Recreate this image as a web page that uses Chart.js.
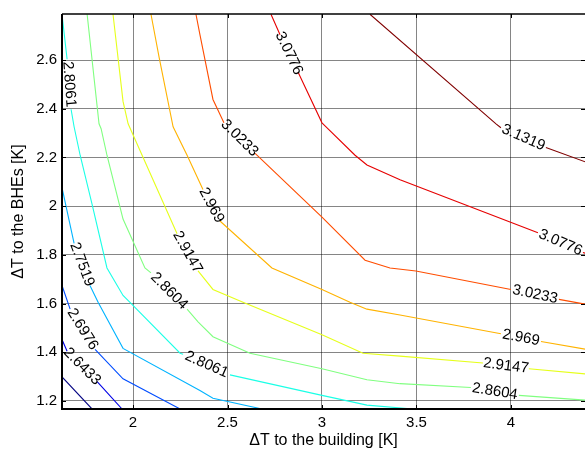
<!DOCTYPE html>
<html>
<head>
<meta charset="utf-8">
<script src="https://cdn.jsdelivr.net/npm/chart.js@4.4.0/dist/chart.umd.min.js"></script>
<style>
    body { margin: 0; background: #fff; }
    #wrap { width: 586px; height: 456px; }
</style>
</head>
<body>
<div id="wrap"><canvas id="contourChart" width="586" height="456"></canvas></div>
<script>
const levels = [2.589, 2.6433, 2.6976, 2.7519, 2.8061, 2.8604, 2.9147, 2.969, 3.0233, 3.0776, 3.1319];
const xTicks = [2, 2.5, 3, 3.5, 4];
const yTicks = [1.2, 1.4, 1.6, 1.8, 2, 2.2, 2.4, 2.6];

// contour paths, null = gap where the level label sits
const c2589x = [1.624, 1.783];
const c2589y = [1.299, 1.167];
const c2643x = [1.624, 1.651, null, 1.810, 1.942];
const c2643y = [1.452, 1.404, null, 1.279, 1.167];
const c2698x = [1.624, 1.667, null, 1.799, 1.947, 2.249];
const c2698y = [1.674, 1.577, null, 1.412, 1.291, 1.167];
const c2752x = [1.624, 1.688, null, 1.772, 1.815, 1.947, 2.354, 2.423, 2.683];
const c2752y = [2.076, 1.847, null, 1.674, 1.605, 1.416, 1.243, 1.211, 1.167];
const c2806x = [1.624, 1.651, null, 1.672, 1.688, 1.720, 1.783, 1.862, 1.947, 1.984, 2.249, 2.265, null, 2.513, 3.000, 3.238, 3.481];
const c2806y = [2.788, 2.603, null, 2.398, 2.326, 2.209, 2.008, 1.746, 1.633, 1.605, 1.396, 1.392, null, 1.307, 1.223, 1.183, 1.167];
const c2860x = [1.757, 1.820, 1.831, 1.862, 1.947, 2.063, 2.095, null, 2.286, 2.344, 2.423, 2.619, 3.000, 3.238, 3.413, 3.788, null, 4.042, 4.397];
const c2860y = [2.788, 2.338, 2.318, 2.209, 1.947, 1.746, 1.726, null, 1.577, 1.525, 1.464, 1.396, 1.332, 1.287, 1.271, 1.255, null, 1.223, 1.203];
const c2915x = [1.894, 1.947, 1.974, 2.048, 2.233, null, 2.344, 2.423, 2.582, 3.000, 3.217, 3.413, 3.852, null, 4.095, 4.397];
const c2915y = [2.788, 2.430, 2.338, 2.209, 1.887, null, 1.734, 1.658, 1.605, 1.472, 1.396, 1.384, 1.356, null, 1.332, 1.311];
const c2969x = [2.095, 2.138, 2.212, 2.286, 2.370, null, 2.460, 2.735, 3.000, 3.148, 3.238, 3.413, 3.947, null, 4.159, 4.397];
const c2969y = [2.788, 2.611, 2.326, 2.209, 2.068, null, 1.939, 1.746, 1.658, 1.605, 1.577, 1.553, 1.476, null, 1.444, 1.412];
const c3023x = [2.333, 2.354, 2.423, 2.481, null, 2.646, 3.000, 3.228, 3.360, 3.497, 4.000, null, 4.254, 4.397];
const c3023y = [2.788, 2.704, 2.438, 2.342, null, 2.217, 1.955, 1.778, 1.746, 1.734, 1.658, null, 1.617, 1.597];
const c3078x = [2.730, 2.778, null, 2.873, 3.000, 3.016, 3.175, 3.238, 3.413, 4.143, null, 4.381, 4.397];
const c3078y = [2.788, 2.704, null, 2.551, 2.342, 2.330, 2.209, 2.169, 2.108, 1.891, null, 1.810, 1.806];
const c3132x = [3.254, 3.921, 3.947, null, 4.185, 4.397];
const c3132y = [2.788, 2.338, 2.322, null, 2.241, 2.181];

// jet colours, low to high
const lineColors = ["#000080", "#0000e6", "#004dff", "#00b3ff", "#1affe6", "#80ff80",
                    "#e6ff1a", "#ffb300", "#ff4d00", "#e60000", "#800000"];

const paths = [
    [c2589x, c2589y], [c2643x, c2643y], [c2698x, c2698y], [c2752x, c2752y],
    [c2806x, c2806y], [c2860x, c2860y], [c2915x, c2915y], [c2969x, c2969y],
    [c3023x, c3023y], [c3078x, c3078y], [c3132x, c3132y]
];

function toPoints(xs, ys) {
    return xs.map((x, i) => {
        if (ys[i] === null) return { x: (xs[i - 1] + xs[i + 1]) / 2, y: null };
        return { x: x, y: ys[i] };
    });
}

const FONT = '"Liberation Sans", Arial, Helvetica, sans-serif';

// level labels drawn in the gaps, turned along the line
const contourLabels = {
    id: "contourLabels",
    afterDatasetsDraw(chart) {
        const ctx = chart.ctx;
        const sx = chart.scales.x, sy = chart.scales.y;
        ctx.save();
        ctx.font = "15px " + FONT;
        ctx.fillStyle = "#000";
        ctx.textAlign = "center";
        ctx.textBaseline = "middle";
        chart.data.datasets.forEach((ds, di) => {
            ds.data.forEach((p, i) => {
                if (p.y !== null) return;
                const a = ds.data[i - 1], b = ds.data[i + 1];
                const ax = sx.getPixelForValue(a.x), ay = sy.getPixelForValue(a.y);
                const bx = sx.getPixelForValue(b.x), by = sy.getPixelForValue(b.y);
                ctx.save();
                ctx.translate((ax + bx) / 2, (ay + by) / 2);
                ctx.rotate(Math.atan2(by - ay, bx - ax));
                ctx.fillText(String(levels[di]), 0, 0);
                ctx.restore();
            });
        });
        ctx.restore();
    }
};

// matlab style box with inward ticks
const axesBox = {
    id: "axesBox",
    afterDatasetsDraw(chart) {
        const ctx = chart.ctx;
        const { left, right, top, bottom } = chart.chartArea;
        ctx.save();
        ctx.strokeStyle = "#000";
        ctx.lineWidth = 1;
        ctx.beginPath();
        chart.scales.x.ticks.forEach(t => {
            const px = Math.round(chart.scales.x.getPixelForValue(t.value)) + 0.5;
            ctx.moveTo(px, bottom); ctx.lineTo(px, bottom - 4);
            ctx.moveTo(px, top); ctx.lineTo(px, top + 4);
        });
        chart.scales.y.ticks.forEach(t => {
            const py = Math.round(chart.scales.y.getPixelForValue(t.value)) + 0.5;
            ctx.moveTo(left, py); ctx.lineTo(left + 4, py);
            ctx.moveTo(right, py); ctx.lineTo(right - 4, py);
        });
        ctx.stroke();
        ctx.lineWidth = 2;
        ctx.beginPath();
        ctx.moveTo(left, top); ctx.lineTo(left, bottom + 1);
        ctx.moveTo(left - 1, bottom); ctx.lineTo(right, bottom);
        ctx.stroke();
        ctx.lineWidth = 1.5;
        ctx.beginPath();
        ctx.moveTo(left, top); ctx.lineTo(right, top);
        ctx.stroke();
        ctx.restore();
    }
};

Chart.defaults.font.family = FONT;
Chart.defaults.font.size = 15;
Chart.defaults.color = "#000";

new Chart(document.getElementById("contourChart").getContext("2d"), {
    type: "scatter",
    data: {
        datasets: paths.map((p, i) => ({
            label: String(levels[i]),
            data: toPoints(p[0], p[1]),
            showLine: true,
            spanGaps: false,
            borderColor: lineColors[i],
            borderWidth: 1.1,
            pointRadius: 0,
            fill: false
        }))
    },
    options: {
        responsive: false,
        animation: false,
        layout: { padding: { top: 6, right: 1, left: 0, bottom: 0 } },
        plugins: { legend: { display: false }, tooltip: { enabled: false } },
        scales: {
            x: {
                type: "linear",
                min: 1.624,
                max: 4.392,
                afterBuildTicks: s => { s.ticks = xTicks.map(v => ({ value: v })); },
                afterFit: s => { s.height = 47; },
                ticks: { padding: 5, callback: v => String(v) },
                grid: { color: "rgba(0,0,0,0.48)", lineWidth: 1, drawTicks: false },
                border: { display: false },
                title: { display: true, text: "ΔT to the building [K]", font: { size: 16 }, padding: { top: 0, bottom: 6 } }
            },
            y: {
                type: "linear",
                min: 1.167,
                max: 2.789,
                afterBuildTicks: s => { s.ticks = yTicks.map(v => ({ value: v })); },
                afterFit: s => { s.width = 62; },
                ticks: { padding: 5, callback: v => String(v) },
                grid: { color: "rgba(0,0,0,0.48)", lineWidth: 1, drawTicks: false },
                border: { display: false },
                title: { display: true, text: "ΔT to the BHEs [K]", font: { size: 16 }, padding: { top: 9, bottom: 0 } }
            }
        }
    },
    plugins: [contourLabels, axesBox]
});
</script>
</body>
</html>
